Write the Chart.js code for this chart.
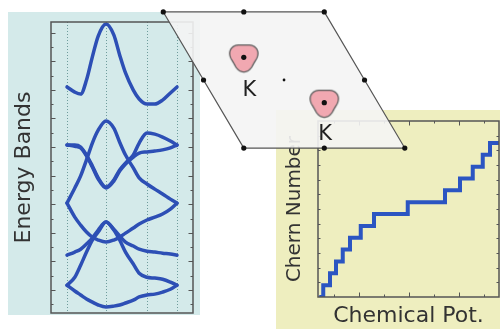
<!DOCTYPE html>
<html>
<head>
<meta charset="utf-8">
<script src="https://cdn.jsdelivr.net/npm/chart.js@4.4.1/dist/chart.umd.min.js"></script>
<style>
  html, body { margin: 0; padding: 0; background: #fff; }
  body { width: 500px; height: 329px; position: relative; overflow: hidden; }
  canvas { position: absolute; }
  #bandChart { left: 8px; top: 12px; background: #d4eaea; z-index: 1; }
  #chernChart { left: 276px; top: 110px; background: #eeeebf; z-index: 1; }
  #bzChart { left: 150px; top: 0; z-index: 2; }
</style>
</head>
<body>
<canvas id="bandChart" width="192" height="303"></canvas>
<canvas id="chernChart" width="224" height="219"></canvas>
<canvas id="bzChart" width="270" height="160"></canvas>
<script>
// k-path: high symmetry points and sample positions
const kPath = [0, 1, 2.05, 2.82];
const kGrid = [0, 0.2, 0.35, 0.5, 0.65, 0.8, 1, 1.2, 1.35, 1.5, 1.7, 1.85, 2.05, 2.25, 2.45, 2.65, 2.82];

// band energies (top to bottom)
const band1 = [7.10, 6.92, 6.85, 7.34, 8.15, 8.88, 9.30, 8.92, 8.22, 7.59, 6.99, 6.68, 6.50, 6.50, 6.64, 6.89, 7.10];
const band2 = [5.07, 5.07, 5.00, 4.72, 4.34, 3.92, 3.60, 3.85, 4.20, 4.44, 4.72, 5.14, 5.49, 5.45, 5.35, 5.21, 5.07];
const band3 = [5.07, 5.03, 4.97, 4.69, 4.30, 3.88, 3.57, 3.81, 4.16, 4.41, 4.65, 4.79, 4.83, 4.86, 4.90, 4.97, 5.07];
const band4 = [3.04, 3.57, 3.99, 4.55, 5.14, 5.59, 5.91, 5.66, 5.17, 4.72, 4.27, 3.92, 3.71, 3.53, 3.36, 3.18, 3.04];
const band5 = [3.04, 2.55, 2.27, 2.03, 1.85, 1.75, 1.68, 1.75, 1.85, 1.99, 2.17, 2.31, 2.45, 2.55, 2.66, 2.83, 3.04];
const band6 = [1.22, 1.33, 1.43, 1.61, 1.82, 2.10, 2.38, 2.13, 1.89, 1.68, 1.54, 1.43, 1.36, 1.33, 1.29, 1.26, 1.22];
const band7 = [0.17, 0.45, 0.87, 1.33, 1.75, 2.03, 2.38, 2.10, 1.75, 1.33, 0.91, 0.59, 0.45, 0.42, 0.38, 0.28, 0.17];
const band8 = [0.17, -0.03, -0.17, -0.31, -0.42, -0.52, -0.59, -0.56, -0.52, -0.45, -0.35, -0.24, -0.17, -0.14, -0.07, 0.03, 0.17];
const energyMajor = [0, 1, 2, 3, 4, 5, 6, 7, 8, 9];
const energyMinor = [-0.5, 0.5, 1.5, 2.5, 3.5, 4.5, 5.5, 6.5, 7.5, 8.5];

// Chern number staircase vs chemical potential
const muSteps = [0.41, 0.57, 0.84, 1.08, 1.35, 1.64, 2.07, 2.6, 3.95, 5.44, 6.04, 6.55, 6.95, 7.24, 7.61];
const chern = [0, 1, 2, 3, 4, 5, 6, 7, 8, 9, 10, 11, 12, 13, 13];
const muMajor = [2, 4, 6];
const muMinor = [1, 3, 5, 7];
const chernTicks = [1.24, 2.48, 3.71, 4.95, 6.19, 7.43, 8.66, 9.9, 11.14, 12.38, 13.61];

// Brillouin zone cell
const cellX = [-1.5, 0.5, 1.5, -0.5, -1.5];
const cellY = [1, 1, -1, -1, 1];
const latticeX = [-1.5, -0.5, 0.5, -1, 1, -0.5, 0.5, 1.5];
const latticeY = [1, 1, 1, 0, 0, -1, -1, -1];
const kX = [-0.5, 0.5];
const kY = [1 / 3, -1 / 3];
const kNames = ["K", "K"];
const kLabelX = [-0.43, 0.51];
const kLabelY = [-0.14, -0.79];

const FONT = '"DejaVu Sans", Verdana, sans-serif';
const BLUE = "#2d4fb5";

// inward ticks + frame around the plot area
const frameTicks = {
    id: "frameTicks",
    afterDatasetsDraw(chart, args, opts) {
        const { ctx, chartArea: a, scales } = chart;
        ctx.save();
        ctx.strokeStyle = opts.color;
        ctx.lineWidth = 1;
        ctx.beginPath();
        const yTick = (v, len) => {
            const py = Math.round(scales.y.getPixelForValue(v)) + 0.5;
            ctx.moveTo(a.left, py); ctx.lineTo(a.left + len, py);
            ctx.moveTo(a.right, py); ctx.lineTo(a.right - len, py);
        };
        const xTick = (v, len) => {
            const px = Math.round(scales.x.getPixelForValue(v)) + 0.5;
            ctx.moveTo(px, a.bottom); ctx.lineTo(px, a.bottom - len);
            ctx.moveTo(px, a.top); ctx.lineTo(px, a.top + len);
        };
        (opts.yMajor || []).forEach(v => yTick(v, 4.5));
        (opts.yMinor || []).forEach(v => yTick(v, 2.5));
        (opts.xMajor || []).forEach(v => xTick(v, 4.5));
        (opts.xMinor || []).forEach(v => xTick(v, 2.5));
        ctx.stroke();
        ctx.lineWidth = 1.5;
        ctx.strokeRect(a.left, a.top, a.right - a.left, a.bottom - a.top);
        ctx.restore();
    }
};

// dotted lines at the high symmetry points
const kLines = {
    id: "kLines",
    beforeDatasetsDraw(chart) {
        const { ctx, chartArea: a, scales: { x } } = chart;
        ctx.save();
        ctx.strokeStyle = "#6e9c9c";
        ctx.lineWidth = 1;
        ctx.setLineDash([1, 2]);
        kPath.forEach(k => {
            const px = Math.round(x.getPixelForValue(k)) + 0.5;
            ctx.beginPath();
            ctx.moveTo(px, a.top);
            ctx.lineTo(px, a.bottom);
            ctx.stroke();
        });
        ctx.restore();
    }
};

const bands = [band1, band2, band3, band4, band5, band6, band7, band8];

new Chart(document.getElementById("bandChart"), {
    type: "line",
    data: {
        datasets: bands.map(b => ({
            data: kGrid.map((k, i) => ({ x: k, y: b[i] })),
            borderColor: BLUE,
            borderWidth: 3.5,
            cubicInterpolationMode: "monotone",
            borderCapStyle: "round",
            borderJoinStyle: "round",
            pointRadius: 0,
            fill: false,
        })),
    },
    options: {
        responsive: false,
        animation: false,
        devicePixelRatio: 1,
        layout: { autoPadding: false, padding: { left: 1, right: 7, top: 10, bottom: 2 } },
        plugins: {
            legend: { display: false },
            tooltip: { enabled: false },
            frameTicks: { color: "#555", yMajor: energyMajor, yMinor: energyMinor },
        },
        scales: {
            x: { type: "linear", display: false, min: -0.41, max: 3.23 },
            y: {
                min: -0.8,
                max: 9.37,
                ticks: { display: false },
                grid: { display: false, drawTicks: false },
                border: { display: false },
                title: {
                    display: true,
                    text: "Energy Bands",
                    color: "#333",
                    font: { family: FONT, size: 22 },
                    padding: { top: 1.8, bottom: 13.8 },
                },
            },
        },
    },
    plugins: [kLines, frameTicks],
});

new Chart(document.getElementById("chernChart"), {
    type: "line",
    data: {
        datasets: [{
            data: muSteps.map((m, i) => ({ x: m, y: chern[i] })),
            borderColor: "#2b55c2",
            borderWidth: 4,
            stepped: true,
            pointRadius: 0,
            fill: false,
        }],
    },
    options: {
        responsive: false,
        animation: false,
        devicePixelRatio: 1,
        layout: { autoPadding: false, padding: { left: 2, right: 1, top: 11, bottom: 0 } },
        plugins: {
            legend: { display: false },
            tooltip: { enabled: false },
            frameTicks: { color: "#555", yMinor: chernTicks, xMajor: muMajor, xMinor: muMinor },
        },
        scales: {
            x: {
                type: "linear",
                min: 0.36,
                max: 7.6,
                ticks: { display: false },
                grid: { display: false, drawTicks: false },
                border: { display: false },
                title: {
                    display: true,
                    text: "Chemical Pot.",
                    color: "#333",
                    font: { family: FONT, size: 22 },
                    padding: { top: 5.6, bottom: 0 },
                },
            },
            y: {
                min: 0,
                max: 14.85,
                ticks: { display: false },
                grid: { display: false, drawTicks: false },
                border: { display: false },
                title: {
                    display: true,
                    text: "Chern Number",
                    color: "#333",
                    font: { family: FONT, size: 20 },
                    padding: { top: 5, bottom: 11 },
                },
            },
        },
    },
    plugins: [frameTicks],
});

// rounded triangular pocket around K
function pocketStyle() {
    const c = document.createElement("canvas");
    c.width = 40;
    c.height = 40;
    const g = c.getContext("2d");
    g.beginPath();
    for (let i = 0; i <= 120; i++) {
        const t = (i / 120) * Math.PI * 2;
        const r = 13.5 - 1.6 * Math.sin(3 * t);
        const px = 20 + r * Math.cos(t);
        const py = 19.5 + r * Math.sin(t);
        if (i === 0) g.moveTo(px, py); else g.lineTo(px, py);
    }
    g.closePath();
    g.fillStyle = "#f1a8b1";
    g.fill();
    g.strokeStyle = "#5c5c5c";
    g.lineWidth = 1.3;
    g.stroke();
    return c;
}

const kText = {
    id: "kText",
    afterDatasetsDraw(chart) {
        const { ctx, scales: { x, y } } = chart;
        ctx.save();
        ctx.font = "21px " + FONT;
        ctx.fillStyle = "#222";
        ctx.textAlign = "center";
        ctx.textBaseline = "middle";
        kNames.forEach((name, i) => {
            ctx.fillText(name, x.getPixelForValue(kLabelX[i]), y.getPixelForValue(kLabelY[i]) + 1);
        });
        ctx.restore();
    }
};

new Chart(document.getElementById("bzChart"), {
    type: "scatter",
    data: {
        datasets: [
            {
                type: "line",
                data: cellX.map((v, i) => ({ x: v, y: cellY[i] })),
                borderColor: "#555",
                borderWidth: 1.2,
                backgroundColor: "rgba(244,244,244,0.9)",
                fill: "shape",
                pointRadius: 0,
                tension: 0,
                clip: false,
                order: 5,
            },
            {
                data: kX.map((v, i) => ({ x: v, y: kY[i] })),
                pointStyle: pocketStyle(),
                clip: false,
                order: 3,
            },
            {
                data: latticeX.map((v, i) => ({ x: v, y: latticeY[i] }))
                    .concat(kX.map((v, i) => ({ x: v, y: kY[i] }))),
                pointRadius: 2.6,
                backgroundColor: "#111",
                borderWidth: 0,
                clip: false,
                order: 1,
            },
            {
                data: [{ x: 0, y: 0 }],
                pointRadius: 1.4,
                backgroundColor: "#111",
                borderWidth: 0,
                order: 1,
            },
        ],
    },
    options: {
        responsive: false,
        animation: false,
        devicePixelRatio: 1,
        layout: { autoPadding: false, padding: 0 },
        plugins: { legend: { display: false }, tooltip: { enabled: false } },
        scales: {
            x: { type: "linear", display: false, min: -1.665, max: 1.689 },
            y: { type: "linear", display: false, min: -1.176, max: 1.176 },
        },
    },
    plugins: [kText],
});
</script>
</body>
</html>
